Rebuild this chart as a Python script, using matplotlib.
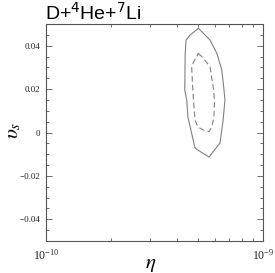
import numpy as np
import matplotlib
matplotlib.use("Agg")
import matplotlib.pyplot as plt
from matplotlib.ticker import MultipleLocator, NullFormatter, LogLocator

plt.rcParams['mathtext.fontset'] = 'stix'
plt.rcParams['font.family'] = ['Liberation Serif', 'DejaVu Serif']

# outer contour (solid), eta in units of 1e-10
outer_eta = [5.04, 5.70, 6.12, 6.46, 6.61, 6.68, 6.55, 6.34, 5.64,
             5.01, 4.86, 4.51, 4.45, 4.36, 4.38, 4.42, 4.61, 5.04]
outer_v = [0.048, 0.0426, 0.0366, 0.0288, 0.0196, 0.015, 0.0058, -0.0048, -0.0113,
           -0.0081, -0.0071, 0.0071, 0.015, 0.0196, 0.0366, 0.0426, 0.0449, 0.048]

# inner contour (dashed)
inner_eta = [5.04, 5.30, 5.70, 5.89, 5.98, 5.94, 5.81, 5.64,
             5.30, 5.01, 4.86, 4.78, 4.74, 4.69, 4.79, 5.04]
inner_v = [0.0365, 0.0343, 0.0303, 0.0211, 0.015, 0.0071, 0.0025, 0.0004,
           0.0012, 0.0025, 0.0058, 0.015, 0.0211, 0.0303, 0.0325, 0.0365]

ytick_vals = [-0.04, -0.02, 0, 0.02, 0.04]
ytick_labels = ['\u22120.04', '\u22120.02', '0', '0.02', '0.04']

fig = plt.figure(figsize=(2.75, 2.73), dpi=100)
ax = fig.add_axes([46/275, 1 - 241/273, 217/275, 217/273])

line_col = '#808080'
ax.plot(np.array(outer_eta) * 1e-10, outer_v, color=line_col, lw=0.8)
ax.plot(np.array(inner_eta) * 1e-10, inner_v, color=line_col, lw=0.8,
        dashes=(5, 3))

ax.set_xscale('log')
ax.set_xlim(1e-10, 1e-9)
ax.set_ylim(-0.05, 0.05)

ax.set_yticks(ytick_vals)
ax.set_yticklabels(ytick_labels)
ax.yaxis.set_minor_locator(MultipleLocator(0.005))
ax.xaxis.set_major_locator(LogLocator(base=10))
ax.xaxis.set_minor_locator(LogLocator(base=10, subs=np.arange(2, 10)))
ax.xaxis.set_minor_formatter(NullFormatter())

ax.tick_params(which='both', direction='in', top=True, right=True,
               color='#555555', labelsize=6.5, labelcolor='#222222', pad=4)
ax.tick_params(axis='x', labelsize=8.5, pad=5)
ax.tick_params(which='major', length=4, width=0.6)
ax.tick_params(which='minor', length=2, width=0.6)
for s in ax.spines.values():
    s.set_color('#555555')
    s.set_linewidth(0.8)

ax.set_xlabel(r'$\eta$', fontsize=15, va='center')
ax.xaxis.set_label_coords(0.484, -0.106)
ax.set_ylabel(r'$\upsilon_s$', fontsize=15, va='center')
ax.yaxis.set_label_coords(-0.147, 0.51)

fig.text(45/275, 1 - 20/273, r'D+$^{4}$He+$^{7}$Li', fontsize=14,
         family=['Liberation Sans', 'DejaVu Sans'], math_fontfamily='dejavusans',
         va='baseline', ha='left')

fig.savefig('out.png', dpi=100)
